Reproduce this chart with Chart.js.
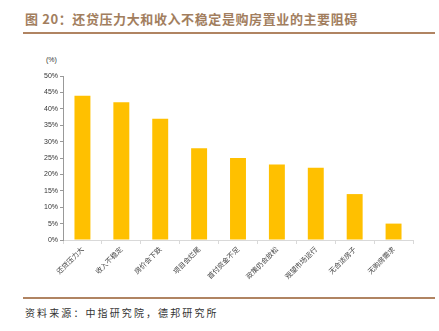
<!DOCTYPE html>
<html>
<head>
<meta charset="utf-8">
<script src="https://cdn.jsdelivr.net/npm/chart.js@4"></script>
<style>
  body { margin: 0; width: 439px; height: 331px; background: #fff; position: relative; overflow: hidden; font-family: "Noto Sans CJK SC", sans-serif; }
  .title { position: absolute; left: 25px; top: 9px; font-size: 13px; font-weight: bold; color: #a27e5e; letter-spacing: 0.6px; }
  .rule { position: absolute; left: 23px; width: 412px; height: 2px; background: #b08462; }
  .unit { position: absolute; left: 46px; top: 56px; font-size: 7px; color: #333; font-family: "Liberation Sans", sans-serif; }
  .source { position: absolute; left: 25px; top: 305px; font-size: 10px; color: #333; letter-spacing: 2.1px; font-family: "Noto Sans CJK SC", serif; }
  #wrap { position: absolute; left: 0; top: 50px; width: 439px; height: 245px; }
</style>
</head>
<body>
<div class="title">图 20：还贷压力大和收入不稳定是购房置业的主要阻碍</div>
<div class="rule" style="top:32px"></div>
<div class="unit">(%)</div>
<div id="wrap"><canvas id="chart"></canvas></div>
<div class="rule" style="top:297px"></div>
<div class="source">资料来源：中指研究院，德邦研究所</div>
<script>
const reasons = ["还贷压力大", "收入不稳定", "房价会下跌", "项目会烂尾", "首付资金不足", "政策仍会放松", "观望市场运行", "无合适房子", "无购房需求"];
const shares = [44, 42, 37, 28, 25, 23, 22, 14, 5];
const yTicks = [0, 5, 10, 15, 20, 25, 30, 35, 40, 45, 50];

const ctx = document.getElementById("chart").getContext("2d");

new Chart(ctx, {
  type: "bar",
  data: {
    labels: reasons,
    datasets: [
      {
        data: shares,
        backgroundColor: "#ffc000",
        barPercentage: 0.82,
        categoryPercentage: 0.5,
      },
    ],
  },
  options: {
    responsive: true,
    maintainAspectRatio: false,
    animation: false,
    layout: { padding: { left: 0, right: 26, top: 26, bottom: 0 } },
    plugins: { legend: { display: false }, tooltip: { enabled: false } },
    scales: {
      x: {
        grid: { drawOnChartArea: false, tickLength: 4, color: "#d9d9d9" },
        border: { color: "#d9d9d9" },
        ticks: {
          autoSkip: false,
          maxRotation: 45,
          minRotation: 45,
          padding: 1,
          color: "#444",
          font: { size: 7, family: "Noto Sans CJK SC" },
        },
        afterFit: (s) => { s.height = 55; },
      },
      y: {
        min: 0,
        max: 50,
        afterBuildTicks: (s) => { s.ticks = yTicks.map((v) => ({ value: v })); },
        grid: { drawOnChartArea: false, tickLength: 3, color: "#999" },
        border: { color: "#999" },
        ticks: {
          padding: 2,
          color: "#333",
          font: { size: 7, family: "Liberation Sans" },
          callback: (v) => v + "%",
        },
        afterFit: (s) => { s.width = 63; },
      },
    },
  },
});
</script>
</body>
</html>
